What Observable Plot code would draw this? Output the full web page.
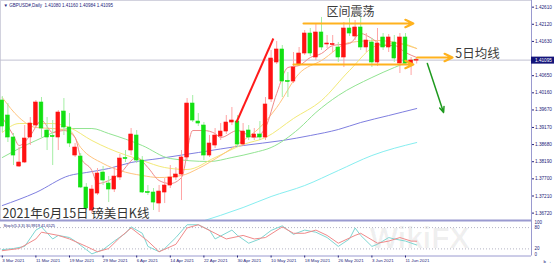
<!DOCTYPE html>
<html><head><meta charset="utf-8">
<script src="https://cdn.jsdelivr.net/npm/d3@7"></script>
<script src="https://cdn.jsdelivr.net/npm/@observablehq/plot@0.6"></script>
<style>
body{margin:0;background:#fff;}
#wrap{position:relative;width:554px;height:265px;overflow:hidden;background:#fff;}
#wrap svg{position:absolute;left:0;}
</style></head><body><div id="wrap"></div>
<script>
// ---- Daily candles GBPUSD, 3 Mar 2021 (bar 0) .. 15 Jun 2021 (bar 74)
const openP=[1.39940,1.39511,1.38882,1.38052,1.38167,1.38882,1.39225,1.39883,1.39082,1.38925,1.38882,1.39625,1.39168,1.38367,1.38338,1.37452,1.36794,1.37280,1.37881,1.37566,1.37395,1.37738,1.38296,1.38510,1.38939,1.38224,1.37323,1.37309,1.36994,1.37309,1.37509,1.37738,1.37824,1.38310,1.39854,1.39339,1.39225,1.38367,1.38653,1.38910,1.39053,1.39311,1.39339,1.38682,1.39082,1.38882,1.38968,1.38882,1.39969,1.41027,1.41399,1.40498,1.40483,1.40970,1.41284,1.41856,1.41170,1.41885,1.41542,1.41527,1.41456,1.41170,1.41999,1.41770,1.42028,1.41456,1.41599,1.41027,1.41742,1.41456,1.41599,1.40998,1.41742,1.40998,1.41080];
const highP=[1.40054,1.39854,1.38996,1.38596,1.39225,1.39454,1.39940,1.40026,1.39454,1.39368,1.39654,1.39997,1.39568,1.38710,1.38424,1.37566,1.37509,1.37995,1.38052,1.37766,1.38024,1.38396,1.38510,1.39139,1.39082,1.38338,1.37509,1.37423,1.37509,1.37709,1.38081,1.38024,1.38510,1.39997,1.40083,1.39568,1.39311,1.38939,1.39139,1.39282,1.39511,1.39740,1.39511,1.39282,1.39225,1.39139,1.39339,1.40026,1.41370,1.41627,1.41513,1.40741,1.41313,1.41456,1.41942,1.41999,1.42114,1.42314,1.41799,1.41799,1.41599,1.42171,1.42285,1.42228,1.42314,1.41856,1.41713,1.41999,1.41856,1.41828,1.41799,1.41856,1.41856,1.41170,1.41160];
const lowP=[1.39025,1.38739,1.38081,1.38024,1.38138,1.38653,1.39139,1.38882,1.38510,1.38081,1.38510,1.38939,1.38596,1.38310,1.37423,1.36794,1.36708,1.37223,1.37509,1.37023,1.37309,1.37652,1.38167,1.38367,1.38138,1.37280,1.37223,1.36794,1.36737,1.36994,1.37423,1.37652,1.37080,1.38224,1.39311,1.39196,1.38224,1.38310,1.38567,1.38796,1.38968,1.39225,1.38596,1.38624,1.38796,1.38796,1.38796,1.38796,1.39883,1.40970,1.40026,1.40026,1.40426,1.40912,1.41227,1.41198,1.41084,1.41370,1.41427,1.41313,1.41027,1.40884,1.41770,1.41656,1.41370,1.41313,1.40884,1.40912,1.41370,1.41313,1.41027,1.40712,1.40941,1.40655,1.40984];
const closeP=[1.39196,1.38882,1.38367,1.38167,1.38853,1.39282,1.39883,1.39139,1.38882,1.38896,1.39597,1.39168,1.38710,1.38596,1.37452,1.36851,1.37395,1.37852,1.37652,1.37395,1.37766,1.38281,1.38267,1.38968,1.38224,1.37309,1.37295,1.37023,1.37337,1.37509,1.37738,1.37824,1.38310,1.39854,1.39368,1.39282,1.38367,1.38710,1.38939,1.39053,1.39311,1.39368,1.38682,1.39053,1.38882,1.38968,1.38882,1.39826,1.41141,1.41399,1.40483,1.40469,1.40884,1.41284,1.41856,1.41284,1.41885,1.41456,1.41570,1.41556,1.41170,1.41999,1.41856,1.42028,1.41456,1.41656,1.41027,1.41570,1.41456,1.41742,1.41141,1.41742,1.40998,1.41084,1.41095];

// ---- Moving averages (bar index, price)
const ma5Bars=[0,2,3,5,7,9,11,13,14,16,17,19,21,24,26,28,30,32,34,36,38,39,42,45,47,49,51,53,55,57,59,62,64,66,68,70,72,74];
const ma5Vals=[1.39454,1.38939,1.38653,1.38939,1.39368,1.39025,1.39082,1.38882,1.38310,1.37938,1.37566,1.37652,1.37852,1.38310,1.38024,1.37652,1.37566,1.37738,1.39082,1.39082,1.38996,1.38882,1.39082,1.38882,1.39168,1.40140,1.40884,1.40941,1.41170,1.41284,1.41513,1.41570,1.41856,1.41713,1.41513,1.41513,1.41313,1.41170];
const ma10Bars=[0,3,6,9,12,14,18,21,25,28,32,35,39,43,46,49,53,57,62,67,71,74];
const ma10Vals=[1.40026,1.39454,1.39168,1.39139,1.39082,1.38596,1.38138,1.37938,1.37795,1.37738,1.37795,1.37995,1.38367,1.38796,1.39168,1.39740,1.40712,1.41084,1.41599,1.41656,1.41570,1.41427];
const ma20Bars=[0,3,9,12,16,19,25,29,33,38,43,47,52,57,62,67,71,74];
const ma20Vals=[1.39025,1.39282,1.39282,1.39168,1.38796,1.38567,1.38224,1.38024,1.37967,1.38310,1.38682,1.38882,1.39426,1.39940,1.40798,1.41513,1.41570,1.41427];
const ma30Bars=[0,6,12,16,19,25,30,37,41,45,48,53,56,60,66,70,74];
const ma30Vals=[1.38310,1.38796,1.39139,1.39139,1.38996,1.38653,1.38281,1.38196,1.38310,1.38453,1.38596,1.39139,1.39597,1.40083,1.40598,1.40884,1.41141];
const ma60Bars=[0,6,12,15,19,23,28,35,43,50,55,60,64,69,74];
const ma60Vals=[1.36937,1.37309,1.37795,1.37881,1.37995,1.38167,1.38281,1.38453,1.38653,1.38796,1.38939,1.39111,1.39311,1.39511,1.39711];
const ma120Bars=[35,43,48,54,60,66,74];
const ma120Vals=[1.36451,1.36880,1.37194,1.37509,1.37938,1.38367,1.38739];

// ---- Stochastic (5,3,3)
const stochKBars=[0,2,4,6,7,9,10,12,13,15,16,18,20,22,23,25,26,28,29,31,33,35,37,38,41,42,44,46,48,50,52,54,56,58,60,62,63,64,66,67,69,70,72,74];
const stochKVals=[18,21,27,73,82,48,58,52,42,18,6,18,42,64,82,64,27,12,21,52,88,88,73,48,73,58,36,48,72,85,61,73,67,52,27,48,79,58,27,33,52,48,42,30.9919];
const stochDBars=[0,3,6,7,10,12,15,17,19,21,23,26,28,31,33,35,38,40,43,45,47,50,52,54,56,58,60,63,64,67,69,71,73,74];
const stochDVals=[15,21,48,67,58,48,27,12,21,52,79,42,12,33,79,88,64,48,58,48,52,82,64,64,73,58,36,58,64,36,42,52,42,41.6525];
const stochLevels=[80,20];

// ---- Axes
const yTicks=[1.42610,1.42120,1.41630,1.40650,1.40160,1.39670,1.39170,1.38680,1.38190,1.37700,1.37210,1.36720];
const tickBars=[0,6,12,18,24,30,36,42,48,54,60,66,72];
const tickLabels=["3 Mar 2021","11 Mar 2021","19 Mar 2021","29 Mar 2021","6 Apr 2021","14 Apr 2021","22 Apr 2021","30 Apr 2021","10 May 2021","18 May 2021","26 May 2021","3 Jun 2021","11 Jun 2021"];

// ---- Annotations (bar index, price)
const riseLine=[{x1:41.8,y1:1.39311,x2:48.4,y2:1.41713}];
const rangeArrows=[{x1:53.8,x2:73.4,y:1.42142},{x1:52,x2:73.4,y:1.40970}];
const maArrow=[{x1:74.1,x2:80.4,y:1.41170}];
const downArrow=[{x1:75.9,y1:1.40998,x2:78.8,y2:1.39597}];
const rangeLabel=[{x:62.2,y:1.42457,t:"区间震荡"}];
const maLabel=[{x:80.9,y:1.41256,t:"5日均线"}];
const titleText="2021年6月15日 镑美日K线";

const X_DOMAIN=[-0.32,94.5];
const CJK="'Noto Sans CJK SC','Noto Sans',sans-serif";
const candles=openP.map((o,i)=>({i,o,h:highP[i],l:lowP[i],c:closeP[i],up:closeP[i]>=o}));
const last=candles[candles.length-1];
const pts=(bars,vals)=>bars.map((b,j)=>({b,v:vals[j]}));
const ma=(bars,vals,stroke)=>Plot.line(pts(bars,vals),{x:"b",y:"v",stroke,strokeWidth:1,curve:"monotone-x",clip:true});
const f5=d=>d.toFixed(5);
const header="▼ GBPUSD#,Daily  "+[last.o,last.h,last.l,last.c].map(f5).join(" ");

const mainSvg=Plot.plot({
  width:554,height:220,marginLeft:0,marginRight:23,marginTop:0,marginBottom:0,
  x:{type:"linear",domain:X_DOMAIN,axis:null},
  y:{type:"linear",domain:[1.36509,1.4280],axis:null},
  style:{background:"transparent",fontFamily:"'Liberation Sans',Arial,sans-serif",color:"#23237a"},
  marks:[
    Plot.frame({stroke:"#d2d2de"}),
    Plot.ruleY([last.c],{stroke:"#c2c2d2"}),
    ma(ma120Bars,ma120Vals,"#86eef0"),
    ma(ma60Bars,ma60Vals,"#7f7fe0"),
    ma(ma30Bars,ma30Vals,"#92e492"),
    ma(ma20Bars,ma20Vals,"#f3ea78"),
    ma(ma10Bars,ma10Vals,"#ffc47e"),
    ma(ma5Bars,ma5Vals,"#f08a8a"),
    Plot.ruleX(candles,{x:"i",y1:"l",y2:"h",stroke:d=>d.up?"#ffa4a4":"#a4eea4",strokeWidth:1}),
    Plot.rect(candles,{x1:d=>d.i-0.33,x2:d=>d.i+0.33,y1:d=>Math.min(d.o,d.c),y2:d=>Math.max(d.o,d.c),
      fill:d=>d.up?"#ff1212":"#12e012",stroke:d=>d.up?"#ff1212":"#12e012",strokeWidth:0.6}),
    Plot.link(riseLine,{x1:"x1",y1:"y1",x2:"x2",y2:"y2",stroke:"#ff1a1a",strokeWidth:2}),
    Plot.arrow(rangeArrows,{x1:"x1",x2:"x2",y1:"y",y2:"y",stroke:"#ffb21e",strokeWidth:2.2,headLength:6,headAngle:50}),
    Plot.arrow(maArrow,{x1:"x1",x2:"x2",y1:"y",y2:"y",stroke:"#ffb21e",strokeWidth:2.2,headLength:6,headAngle:50}),
    Plot.arrow(downArrow,{x1:"x1",x2:"x2",y1:"y1",y2:"y2",stroke:"#1f9a1f",strokeWidth:1.5,headLength:6,headAngle:45}),
    Plot.text(rangeLabel,{x:"x",y:"y",text:"t",fontSize:12,fontFamily:CJK,fill:"#3c3c3c"}),
    Plot.text(maLabel,{x:"x",y:"y",text:"t",textAnchor:"start",fontSize:12.5,fontFamily:CJK,fill:"#3c3c3c"}),
    Plot.text([titleText],{frameAnchor:"bottom-left",dx:2,dy:-3,lineAnchor:"bottom",fontSize:12.5,fontFamily:CJK,fill:"#333"}),
    Plot.text([header],{frameAnchor:"top-left",dx:3,dy:3,lineAnchor:"top",fontSize:4.5,fill:"#23237a"}),
    Plot.ruleX([X_DOMAIN[1]],{stroke:"#9a9ad0"}),
    Plot.axisY(yTicks,{anchor:"right",tickSize:2,tickPadding:1.5,tickFormat:f5,fontSize:4.7}),
    Plot.ruleY([last.c],{x1:X_DOMAIN[1],x2:X_DOMAIN[1]+23/5.6,stroke:"#14147a",strokeWidth:7}),
    Plot.text([last.c],{y:d=>d,text:f5,frameAnchor:"right",textAnchor:"start",dx:3.5,fontSize:4.7,fill:"#fff"})
  ]
});

const stochHeader="Stoch(5,3,3) "+stochKVals[stochKVals.length-1].toFixed(4)+" "+stochDVals[stochDVals.length-1].toFixed(4);
const stochSvg=Plot.plot({
  width:554,height:47,marginLeft:0,marginRight:23,marginTop:2,marginBottom:9.5,
  x:{type:"linear",domain:X_DOMAIN,axis:null},
  y:{type:"linear",domain:[0,100],axis:null},
  style:{background:"transparent",fontFamily:"'Liberation Sans',Arial,sans-serif",color:"#23237a"},
  marks:[
    Plot.text(["WikiFX"],{frameAnchor:"right",dx:-62,fontSize:30,fontWeight:"bold",fill:"#000",fillOpacity:0.06}),
    Plot.ruleY(stochLevels,{stroke:"#b4b4c4",strokeDasharray:"1,2"}),
    Plot.line(pts(stochKBars,stochKVals),{x:"b",y:"v",stroke:"#7fd6d2",strokeWidth:1}),
    Plot.line(pts(stochDBars,stochDVals),{x:"b",y:"v",stroke:"#f08a8a",strokeWidth:1}),
    Plot.ruleY([100],{stroke:"#9a9ad0",strokeWidth:2}),
    Plot.ruleY([0],{stroke:"#9a9ad0"}),
    Plot.ruleX([X_DOMAIN[1]],{stroke:"#9a9ad0"}),
    Plot.text([stochHeader],{frameAnchor:"top-left",dx:3,dy:4,fontSize:3.9,fill:"#23237a"}),
    Plot.text([100],{y:d=>d,text:d=>String(d),frameAnchor:"right",textAnchor:"start",lineAnchor:"top",dx:3,dy:0.5,fontSize:4.5}),
    Plot.text(stochLevels,{y:d=>d,text:d=>String(d),frameAnchor:"right",textAnchor:"start",dx:3,fontSize:4.5}),
    Plot.text([0],{y:d=>d,text:d=>String(d),frameAnchor:"right",textAnchor:"start",lineAnchor:"bottom",dx:3,fontSize:4.5}),
    Plot.axisX(tickBars,{anchor:"bottom",tickSize:2,tickPadding:1,textAnchor:"start",fontSize:4.4,
      tickFormat:d=>tickLabels[tickBars.indexOf(d)]})
  ]
});

const wrap=document.getElementById("wrap");
mainSvg.style.top="0px";
stochSvg.style.top="218px";
wrap.appendChild(mainSvg);
wrap.appendChild(stochSvg);
</script>
</body></html>
